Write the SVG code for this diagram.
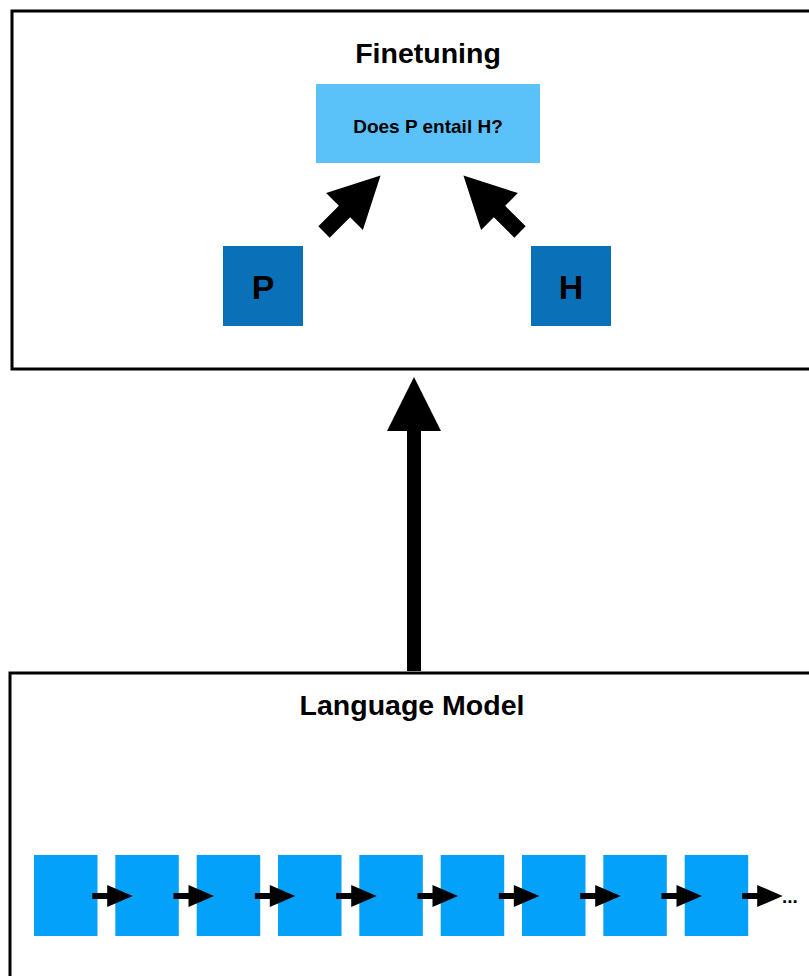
<svg xmlns="http://www.w3.org/2000/svg" width="809" height="976" viewBox="0 0 809 976">
  <style>
    .frame { fill: #ffffff; stroke: #000000; stroke-width: 3; }
    .title { font-family: "Liberation Sans", Arial, sans-serif; font-weight: bold; font-size: 28.5px; fill: #000; text-anchor: middle; }
    .task { fill: #5bc1f9; }
    .task-label { font-family: "Liberation Sans", Arial, sans-serif; font-weight: bold; font-size: 19px; fill: #000; text-anchor: middle; }
    .input { fill: #0a71b8; }
    .input-label { font-family: "Liberation Sans", Arial, sans-serif; font-weight: bold; font-size: 34px; fill: #000; text-anchor: middle; }
    .cell { fill: #03a1fa; }
    .arrow { fill: #000000; }
    .dots { font-family: "Liberation Sans", Arial, sans-serif; font-weight: bold; font-size: 19px; fill: #000; }
  </style>
  <defs>
    <!-- block arrow pointing along +x, tail at origin -->
    <path id="diag-arrow" d="M0,-8 L29,-8 L29,-26 L80,0 L29,26 L29,8 L0,8 Z"/>
    <path id="chain-arrow" d="M0,-3 L15,-3 L15,-11 L40.5,0 L15,11 L15,3 L0,3 Z"/>
  </defs>

  <rect width="809" height="976" fill="#ffffff"/>

  <!-- Finetuning panel -->
  <g id="finetuning">
    <rect class="frame" x="12" y="11" width="820" height="358"/>
    <text class="title" x="428" y="63">Finetuning</text>
  </g>

  <g id="task">
    <rect class="task" x="316" y="84" width="224" height="79"/>
    <text class="task-label" x="428" y="133">Does P entail H?</text>
  </g>

  <g id="premise">
    <rect class="input" x="223" y="246" width="80" height="80"/>
    <text class="input-label" x="263" y="299">P</text>
  </g>

  <g id="hypothesis">
    <rect class="input" x="531" y="246" width="80" height="80"/>
    <text class="input-label" x="571" y="299">H</text>
  </g>

  <!-- Language Model panel -->
  <g id="language-model">
    <rect class="frame" x="10" y="673" width="820" height="330"/>
    <text class="title" x="412" y="715">Language Model</text>
  </g>

  <g id="cell-1"><rect class="cell" x="34" y="855" width="63.5" height="81"/></g>
  <g id="cell-2"><rect class="cell" x="115.3" y="855" width="63.5" height="81"/></g>
  <g id="cell-3"><rect class="cell" x="196.7" y="855" width="63.5" height="81"/></g>
  <g id="cell-4"><rect class="cell" x="278" y="855" width="63.5" height="81"/></g>
  <g id="cell-5"><rect class="cell" x="359.3" y="855" width="63.5" height="81"/></g>
  <g id="cell-6"><rect class="cell" x="440.7" y="855" width="63.5" height="81"/></g>
  <g id="cell-7"><rect class="cell" x="522" y="855" width="63.5" height="81"/></g>
  <g id="cell-8"><rect class="cell" x="603.3" y="855" width="63.5" height="81"/></g>
  <g id="cell-9"><rect class="cell" x="684.7" y="855" width="63.5" height="81"/></g>
  <text class="dots" x="782" y="903">...</text>

  <!-- connectors -->
  <g id="connectors" class="arrow">
    <use href="#diag-arrow" transform="translate(324,232) rotate(-45)"/>
    <use href="#diag-arrow" transform="translate(520,232) rotate(-135)"/>
    <path d="M407,671 L407,431 L387,431 L414,377 L441,431 L421,431 L421,671 Z"/>
    <use href="#chain-arrow" transform="translate(92.2,896)"/>
    <use href="#chain-arrow" transform="translate(173.5,896)"/>
    <use href="#chain-arrow" transform="translate(254.8,896)"/>
    <use href="#chain-arrow" transform="translate(336.2,896)"/>
    <use href="#chain-arrow" transform="translate(417.5,896)"/>
    <use href="#chain-arrow" transform="translate(498.8,896)"/>
    <use href="#chain-arrow" transform="translate(580.2,896)"/>
    <use href="#chain-arrow" transform="translate(661.5,896)"/>
    <use href="#chain-arrow" transform="translate(742.2,896)"/>
  </g>
</svg>
